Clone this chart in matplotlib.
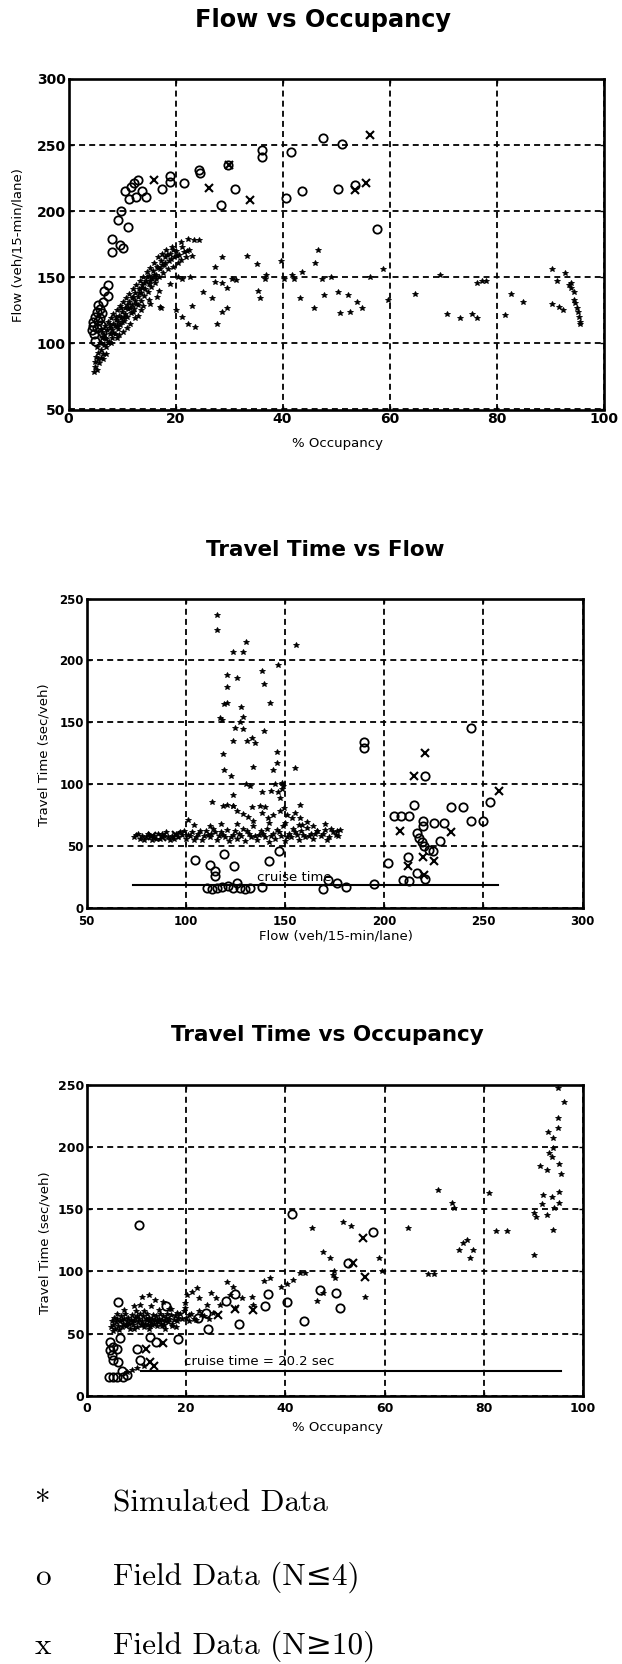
import numpy as np
import matplotlib
matplotlib.use("Agg")
import matplotlib.pyplot as plt

W, H = 622, 1664

# ---------------- Flow vs Occupancy ----------------
fo_sim = [(4.8,78),(5.0,82),(4.9,86),(5.3,80),(5.2,90),(5.5,93),(5.4,97),(5.7,85),(5.8,100),(6.0,89),
          (6.1,95),(6.2,104),(6.3,109),(6.5,92),(6.6,99),(6.7,106),(6.9,113),(7.0,97),(7.1,103),(7.2,110),
          (7.4,116),(7.5,101),(7.7,107),(7.8,112),(7.9,119),(8.1,104),(8.2,110),(8.3,115),(8.4,122),(8.6,107),
          (8.7,113),(8.9,118),(9.0,125),(9.2,111),(9.3,116),(9.4,121),(9.6,128),(9.7,114),(9.9,119),(10.0,124),
          (10.2,131),(10.3,117),(10.5,122),(10.6,127),(10.8,134),(11.0,120),(11.1,126),(11.3,131),(11.4,137),
          (11.6,123),(11.8,129),(11.9,134),(12.0,141),(12.2,126),(12.4,132),(12.5,138),(12.7,144),(12.9,129),
          (13.0,135),(13.1,141),(13.3,147),(13.5,132),(13.6,138),(13.8,144),(14.0,150),(14.1,136),(14.3,141),
          (14.5,147),(14.6,154),(14.8,139),(15.0,145),(15.1,151),(15.3,157),(15.5,143),(15.7,149),(15.8,155),
          (16.0,161),(16.2,146),(16.4,152),(16.5,158),(16.7,165),(16.9,150),(17.1,156),(17.3,162),(17.5,168),
          (17.7,153),(17.9,159),(18.1,165),(18.3,171),(18.6,156),(18.8,162),(19.0,168),(19.3,173),(19.6,158),
          (19.8,165),(20.1,170),(20.4,161),(20.7,167),(21.1,163),(21.5,169),(22.0,165),(22.5,171),(23.0,166),
          (23.5,178),(22.4,179),(24.4,178),(21.0,177),(12.4,119),(15.2,130),(17.3,126.5),(10.2,109),(13.5,125),
          (8.0,100),(9.5,106),(6.4,88),(16.5,135),(14.0,128),(11.5,115),(17.1,127.8),
          (5.5,88),(6.0,100),(6.8,104),(7.3,100),(7.7,114),(8.3,108),(8.8,120),(9.1,113),(9.8,127),(10.4,120),
          (10.9,129),(11.5,127),(12.1,135),(12.6,130),(13.2,138),(13.7,142),(14.2,146),(14.7,150),(15.2,147),
          (15.9,152),(16.3,149),(16.8,157),(17.4,159),(18.0,161),(18.5,167),(19.1,164),(19.6,171),(20.3,166),
          (21.2,173),(22.1,170),(9.0,104),(11.0,112),(13.0,121),(15.0,133),(17.0,140),(19.0,145),(20.5,150),
          (7.0,92),(10.0,116),(12.0,124),
          (21.2,149),(22.7,150),(23.0,128),(21.2,120),(20.0,125),(22.4,115),(23.6,112.7),(25.2,139),(26.8,134),
          (27.3,158),(27.4,146.7),(28.6,145.5),(28.6,165),(29.7,142),(28.6,124),(29.7,126.5),(27.7,114.4),
          (30.5,149),(31.4,148),(33.3,166),(35.2,160),(35.5,139.6),(35.8,134),(37.0,152),(36.7,149),(39.8,162),
          (40.2,149),(41.7,152),(42.2,149),(43.6,154),(43.3,134.6),(45.8,126.5),(46.1,160.6),(46.7,170.6),
          (47.3,149),(47.8,136.6),(49.0,150.5),(50.4,139),(52.3,136.6),(53.9,131.5),(54.8,126.5),(50.7,122.8),
          (52.6,124),(56.4,150.5),(58.7,156),(59.8,132.6),(64.8,137.7),(69.4,152),(70.7,122),(73.2,119.5),
          (75.4,122),(76.3,119.5),(76.3,146),(77.2,147),(78.1,147),(81.6,121.5),(82.8,137),(84.9,131),
          (90.3,156.3),(92.8,153),(91.3,147),(93.9,146),(94.0,142),(94.4,139),(90.3,129.6),(91.6,127.8),
          (92.5,125.3),(94.4,132.6),(94.7,130.3),(95.0,127),(95.3,124),(95.4,120.2),(95.6,116.5),(95.6,114.4),
          (93.6,144)]
fo_low = [(47.6,255),(41.6,245),(36.1,246),(36.1,241),(29.9,235),(24.3,231),(24.5,229),(31.1,217),(28.5,205),
          (40.6,210),(43.6,215),(21.5,221),(19.0,227),(19.0,222),(17.4,217),(13.05,223.6),(12.3,221),(11.7,218.5),
          (13.8,215),(14.4,211),(11.3,209),(10.6,215),(12.6,210.8),(9.9,200.4),(9.2,193.4),(11.1,188.3),(8.2,179),
          (9.6,174.4),(10.2,172.4),(8.1,169),(7.3,144),(6.7,139.6),(7.3,136),(5.6,129),(5.3,124),(6.2,122.8),
          (4.6,116.5),(5.4,111.5),(4.3,110),(4.9,102),(6.5,131),(5.9,119),(6.2,108.9),(51.1,250.8),(50.4,216.8),
          (53.6,219.8),(57.6,186.5),(4.5,113),(5.0,120),(5.8,126),(6.0,114),(4.8,107),(5.5,117)]
fo_high = [(15.9,223.6),(26.3,217.3),(33.9,208.5),(30.0,235),(53.6,216),(55.7,221),(56.4,257.6)]

# ---------------- Travel Time vs Flow ----------------
tf_sim = [(74,57),(75,59),(77,56),(78,58),(80,57),(81,60),(83,55),(84,58),(86,60),(87,56),(89,58),(90,61),
          (92,55),(93,58),(95,60),(96,57),(98,59),(99,62),(100,56),(102,58),(103,61),(105,57),(106,60),(108,55),
          (109,58),(110,62),(112,57),(113,60),(114,64),(116,55),(117,58),(118,61),(120,57),(121,63),(122,54),
          (124,59),(125,62),(126,56),(128,58),(129,64),(130,54),(132,60),(133,57),(134,66),(136,55),(137,59),
          (138,62),(140,57),(141,64),(142,53),(144,60),(145,56),(146,63),(148,58),(149,66),(150,54),(152,60),
          (153,57),(154,64),(156,59),(157,55),(158,62),(160,57),(161,65),(163,60),(164,56),(166,62),(168,58),
          (170,63),(172,57),(174,61),(176,59),(178,63),(76,60),(79,55),(82,58),(85,56),(88,60),(91,57),(94,56),
          (97,61),(101,59),(104,55),(107,62),(111,59),(115,61),(119,59),(123,57),(127,60),(131,62),(135,58),
          (139,60),(143,58),(147,61),(151,57),(155,61),(159,59),(162,58),(165,60),(169,60),(173,64),(177,58),
          (104,67),(112,66),(118,68),(126,68),(134,70),(142,69),(150,69),(157,67),(101,71),
          (115.6,237),(115.6,224.5),(130.2,215),(123.7,206.5),(129.1,206.5),(155.4,212.4),(146.7,196),
          (138.3,191.4),(121,188),(126.1,185.5),(139.6,180.6),(121,178.8),(142.5,165.3),(119.3,164.5),
          (120.6,165.3),(127.9,162.6),(117.3,153.8),(118.2,151.9),(128.8,154.6),(127.4,150.5),(124.8,145.7),
          (129,144.6),(139.7,143.3),(123.7,135.2),(130.7,135),(133.2,137.6),(134.9,133),(145.9,125.8),
          (118.6,124.2),(119.3,111.6),(122.7,107),(134.1,114.2),(144.2,111.6),(145.9,116.9),(155.1,113.4),
          (145,100.5),(130.4,100),(132.4,98.4),(124,91.4),(113.1,86),(123.7,82),(148.4,100.8),(148.4,96.2),
          (147.6,88.7),(157.6,83.3),(138.3,94),(142.8,94.6),(146.7,94),(148.8,98.9),(119,82),(120.6,82.8),
          (124,82),(125.7,78),(129,75.8),(131.6,73.9),(133.2,81.2),(137.5,82),(140,81.2),(138.3,76.6),
          (141.7,72.6),(144.2,75.3),(147.6,78),(149.3,80.6),(151,75.3),(153.4,72.6),(155.1,76.6),(157.6,72.6),
          (158.5,67.2),(161,69.4),(164.3,65.9),(166,61.8),(170.2,67.7),(176.1,61.8),(171,55.1)]
tf_low = [(104.7,39),(112.3,35),(114.8,30),(114.8,25.5),(119.3,43.5),(124.5,34),(142.2,37.6),(147.2,45.7),
          (138.3,16.7),(110.6,16),(113.1,15.6),(115.6,16),(118.2,16.7),(121.5,17.5),(124,16),(125.7,20),
          (127.4,16),(129.9,15.6),(132.4,16),(169.4,15.6),(171.9,22.8),(176.1,20),(180.8,16.7),(190,134.4),
          (190,129.6),(194.9,19.4),(202,36),(209.7,22.8),(212.8,21.5),(216.4,28.2),(211.8,40.9),(220.4,23.7),
          (220.7,107),(215.3,83.3),(204.9,74.7),(208.7,74.7),(212.5,74.7),(219.6,70.4),(219.6,65.9),(225.1,68.5),
          (230.2,68.5),(233.6,81.2),(239.8,81.2),(243.7,70.4),(249.6,70.4),(253.4,85.5),(243.7,145.7),
          (228.3,53.8),(216.4,60.5),(217.8,56.5),(219,53.2),(220.2,49.7),(222.4,47),(224.6,45.7)]
tf_high = [(220.4,125),(215.2,107),(208,61.8),(233.9,61.3),(219.4,40.9),(224.9,38.2),(211.8,33.6),
           (219.9,26.3),(258,94.6),(83,58),(88,57),(95,59)]
tf_cruise = 18.5
tf_cruise_range = (73.5, 257.5)

# ---------------- Travel Time vs Occupancy ----------------
to_sim = [(4.8,55),(5.0,60),(5.3,57),(5.5,63),(5.7,54),(5.9,59),(6.1,62),(6.3,56),(6.6,60),(6.8,64),(7.0,55),
          (7.2,58),(7.4,62),(7.6,66),(7.8,56),(8.0,60),(8.2,63),(8.4,58),(8.6,54),(8.8,61),(9.0,65),(9.2,57),
          (9.4,60),(9.6,63),(9.8,68),(10.0,55),(10.2,59),(10.4,62),(10.6,66),(10.8,57),(11.0,60),(11.2,64),
          (11.4,55),(11.6,58),(11.8,62),(12.0,66),(12.2,57),(12.4,60),(12.6,63),(12.8,56),(13.0,59),(13.2,62),
          (13.4,65),(13.6,58),(13.8,61),(14.0,64),(14.2,56),(14.4,59),(14.6,62),(14.8,66),(15.0,58),(15.2,61),
          (15.4,64),(15.6,57),(15.8,60),(16.0,63),(16.3,59),(16.6,62),(16.9,65),(17.2,58),(17.5,61),(17.8,64),
          (18.1,60),(18.4,63),(18.8,66),(19.2,62),(11,79.7),(12.4,81),(13.7,77),(10.7,73),(15.4,75.7),(8,19.5),
          (9,20.9),(10,22.2),(11.5,24),(9.5,72),(17,70),(19.5,68),(20.5,65),(21.5,62),(22.5,68),(23.5,64),
          (19.8,75),(20.5,60),(21,66),(22,61),(23,65),(24.5,62),(25.5,67),(20,63),
          (5.2,52),(6,66),(7.1,61),(8.1,57),(9.1,59),(10.1,64),(11.1,57),(12.1,61),(13.1,57),(14.1,60),
          (15.1,56),(16.1,66),(17.1,56),(18.1,67),(6.5,53),(9.5,54),(12.5,54),(15.8,54),(11.5,68),(14.5,69),
          (13,72),(16.5,70),(7.5,69),(18,55),
          (19.8,70.4),(20.1,81),(21.1,83.7),(22.1,86.4),(22.6,78.4),(24.1,73),(25.1,82.4),(26.1,78.4),(26.8,73),
          (28.2,91.8),(28.8,81),(29.5,87.7),(29.8,70.4),(31.2,78.9),(33.2,79.7),(33.5,73),(35.6,92.3),
          (36.9,94.4),(39.2,87.7),(40.3,89.6),(41.6,93.1),(43,98.4),(44,98.4),(45.3,135),(47.6,115.8),
          (47.6,82.4),(46.3,76.2),(48.9,111),(49.6,97.1),(51.7,139.9),(53.2,136.7),(49.8,100.3),(50,95),
          (56.1,79.7),(58.9,111),(59.4,100.3),(64.8,134.6),(68.8,97.9),(70,97.9),(70.8,165.3),(73.5,154.6),
          (74,151.2),(75.1,117.2),(75.9,122.5),(76.6,125.2),(77.2,111),(77.8,117.2),(81.1,162.7),(82.5,132.7),
          (84.7,132.7),(90.1,113.2),(90.1,146.6),(90.6,144),(91.3,184.9),(91.7,154.1),(92.8,145.3),(92.9,212.2),
          (92.8,181.3),(93.2,194.8),(93.7,192.1),(93.9,207.3),(93.7,160),(93.9,133),(94.1,150.6),(95,222.8),
          (95,214.8),(95.2,186.3),(95.5,178),(95.2,163.5),(95.2,154.6),(94.9,246.9),(96.2,236.2),(93.9,199.3),
          (92,161.3)]
to_low = [(10.5,137.2),(41.3,145.8),(6.2,75.7),(40.3,75.7),(36.5,81.5),(35.8,72.5),(28,76),(29.8,81.5),
          (30.7,58),(46.9,85),(50.2,83),(51,71),(43.8,60.5),(57.7,131.9),(52.7,106.5),(24.3,54),(22.3,63),
          (18.4,46),(24,67),(16,72),(4.5,15.5),(5.3,15.5),(6.1,15.5),(7.2,15.5),(8,16.9),(4.6,43.6),(4.6,36.9),
          (5.3,39.6),(6,37.7),(6.6,46.3),(5.2,28.9),(6.3,27.6),(10.1,37.7),(10.7,28.9),(12.7,47.6),(14,43.6),
          (5.0,33),(7.0,20)]
to_high = [(55.7,126.5),(53.6,106.5),(56.1,95.8),(33.4,69),(29.8,70),(26.5,65),(15.3,42.3),(12.7,27.6),
           (11.9,38),(13.5,24)]
to_cruise = 20.2
to_cruise_range = (10.8, 95.6)

leg_sym = ['*', 'o', 'x']
leg_txt = ['Simulated Data', 'Field Data (N\u22644)', 'Field Data (N\u226510)']


def rect(l, r, t, b):
    return [l / W, 1 - b / H, (r - l) / W, (b - t) / H]


def fx(x):
    return x / W


def fy(y):
    return 1 - y / H


def setup(ax, xlim, ylim, xticks, yticks, tsize, xpad):
    ax.set_xlim(*xlim)
    ax.set_ylim(*ylim)
    ax.set_xticks(xticks)
    ax.set_yticks(yticks)
    ax.grid(True, color='black', linestyle=(0, (3.3, 2.3)), linewidth=1.3)
    for s in ax.spines.values():
        s.set_linewidth(1.9)
    ax.tick_params(direction='in', length=3, width=1, top=True, right=True,
                   labelsize=tsize, pad=2)
    ax.tick_params(axis='x', pad=xpad)
    for lab in ax.get_xticklabels() + ax.get_yticklabels():
        lab.set_fontweight('bold')


def scatter(ax, pts, kind):
    x = [p[0] for p in pts]
    y = [p[1] for p in pts]
    if kind == 'sim':
        ax.plot(x, y, ls='none', marker='*', ms=4, color='black', mew=0.6, zorder=3)
    elif kind == 'low':
        ax.plot(x, y, ls='none', marker='o', ms=6, mfc='none', mec='black', mew=1.3, zorder=3)
    else:
        ax.plot(x, y, ls='none', marker='x', ms=5.5, color='black', mew=1.5, zorder=3)


fig = plt.figure(figsize=(W / 100, H / 100), dpi=100)

# plot 1
ax1 = fig.add_axes(rect(68.5, 603.5, 79, 409.5))
setup(ax1, (0, 100), (50, 300), range(0, 101, 20), range(50, 301, 50), 10, 2)
scatter(ax1, fo_sim, 'sim')
scatter(ax1, fo_low, 'low')
scatter(ax1, fo_high, 'high')
fig.text(fx(323), fy(20), 'Flow vs Occupancy', ha='center', va='center', fontsize=17.3, fontweight='bold')
fig.text(fx(337), fy(444), '% Occupancy', ha='center', va='center', fontsize=9.5)
fig.text(fx(18), fy(245), 'Flow (veh/15-min/lane)', ha='center', va='center', rotation=90, fontsize=9.5)

# plot 2
ax2 = fig.add_axes(rect(86.5, 582.5, 598.5, 908))
setup(ax2, (50, 300), (0, 250), range(50, 301, 50), range(0, 251, 50), 8.5, 5)
scatter(ax2, tf_sim, 'sim')
scatter(ax2, tf_low, 'low')
scatter(ax2, tf_high, 'high')
ax2.plot(tf_cruise_range, [tf_cruise, tf_cruise], color='black', lw=1.5, zorder=2)
ax2.text(136, 25, 'cruise time', fontsize=9.5, va='center')
fig.text(fx(325), fy(550), 'Travel Time vs Flow', ha='center', va='center', fontsize=15.5, fontweight='bold')
fig.text(fx(336), fy(936), 'Flow (veh/15-min/lane)', ha='center', va='center', fontsize=9.5)
fig.text(fx(44), fy(755), 'Travel Time (sec/veh)', ha='center', va='center', rotation=90, fontsize=9.5)

# plot 3
ax3 = fig.add_axes(rect(87, 583, 1084.5, 1396))
setup(ax3, (0, 100), (0, 250), range(0, 101, 20), range(0, 251, 50), 9, 4)
scatter(ax3, to_sim, 'sim')
scatter(ax3, to_low, 'low')
scatter(ax3, to_high, 'high')
ax3.plot(to_cruise_range, [to_cruise, to_cruise], color='black', lw=1.5, zorder=2)
ax3.text(19.6, 27.5, 'cruise time = 20.2 sec', fontsize=9.5, va='center')
fig.text(fx(327), fy(1035), 'Travel Time vs Occupancy', ha='center', va='center', fontsize=15.5, fontweight='bold')
fig.text(fx(337), fy(1427), '% Occupancy', ha='center', va='center', fontsize=9.5)
fig.text(fx(44.5), fy(1243), 'Travel Time (sec/veh)', ha='center', va='center', rotation=90, fontsize=9.5)

# legend text below the plots
leg_base = [1512, 1585, 1654]
serif = ['cmr10', 'DejaVu Serif']
for sym, txt, yb in zip(leg_sym, leg_txt, leg_base):
    fig.text(fx(35), fy(yb), sym, ha='left', va='baseline', fontsize=22.5, family=serif)
    fig.text(fx(113), fy(yb), txt, ha='left', va='baseline', fontsize=22.5, family=serif)

fig.savefig('out.png', dpi=100)
